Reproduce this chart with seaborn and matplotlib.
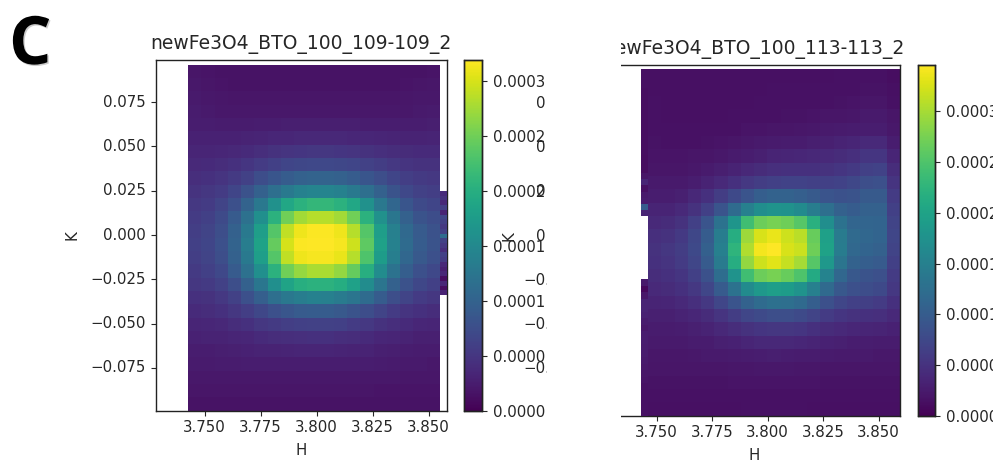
import pandas as pd
import seaborn as sns
import matplotlib.pyplot as plt
import matplotlib.patheffects as pe
from matplotlib.patches import Rectangle

W, H = 997, 462

# intensity values in units of 1e-6, rows from top (K high) to bottom (K low)
left_grid = [
    [18, 17, 16, 15, 15, 15, 15, 15, 15, 15, 15, 15, 15, 15, 15, 15, 15, 16, 17],
    [20, 18, 17, 16, 16, 16, 16, 16, 16, 16, 16, 16, 16, 16, 16, 16, 17, 18, 19],
    [22, 20, 19, 18, 18, 18, 18, 18, 18, 18, 18, 18, 18, 18, 18, 18, 19, 20, 21],
    [24, 22, 21, 20, 20, 20, 21, 21, 21, 21, 21, 21, 21, 21, 21, 21, 21, 22, 23],
    [26, 25, 24, 24, 24, 25, 26, 27, 27, 27, 27, 27, 27, 26, 26, 25, 25, 26, 27],
    [29, 29, 29, 29, 30, 32, 34, 35, 36, 36, 36, 36, 35, 34, 33, 32, 31, 31, 32],
    [33, 33, 34, 36, 38, 42, 45, 48, 49, 50, 50, 49, 48, 46, 43, 41, 39, 38, 38],
    [37, 38, 41, 44, 49, 55, 61, 66, 68, 70, 70, 68, 66, 62, 57, 52, 48, 46, 45],
    [42, 44, 48, 54, 62, 74, 84, 92, 98, 100, 100, 98, 92, 84, 76, 66, 58, 54, 52],
    [47, 50, 56, 66, 80, 98, 115, 130, 140, 145, 145, 140, 130, 115, 98, 82, 70, 62, 58],
    [52, 56, 64, 78, 100, 128, 160, 190, 205, 212, 212, 205, 190, 160, 128, 104, 84, 72, 66],
    [56, 60, 72, 90, 118, 158, 205, 250, 275, 285, 285, 275, 250, 205, 160, 125, 98, 82, 74],
    [58, 64, 76, 98, 130, 178, 235, 290, 312, 318, 318, 312, 285, 235, 178, 138, 108, 90, 80],
    [60, 66, 78, 100, 134, 184, 245, 300, 318, 320, 320, 316, 295, 240, 182, 140, 110, 92, 82],
    [58, 64, 76, 98, 130, 178, 235, 290, 312, 316, 316, 310, 285, 230, 175, 136, 106, 88, 78],
    [54, 60, 70, 90, 118, 158, 205, 250, 270, 280, 280, 268, 245, 200, 155, 120, 94, 78, 70],
    [50, 54, 62, 76, 98, 126, 158, 186, 200, 205, 205, 198, 182, 155, 124, 98, 80, 68, 60],
    [44, 46, 52, 62, 78, 96, 115, 128, 135, 140, 138, 132, 124, 110, 92, 76, 64, 56, 50],
    [38, 40, 44, 50, 58, 68, 78, 86, 90, 92, 92, 88, 82, 74, 64, 56, 48, 44, 40],
    [33, 34, 36, 40, 44, 50, 54, 58, 60, 62, 62, 60, 56, 52, 46, 42, 38, 35, 33],
    [29, 30, 31, 33, 35, 38, 40, 42, 43, 44, 44, 42, 41, 38, 35, 33, 30, 28, 28],
    [26, 26, 27, 28, 29, 30, 31, 32, 33, 33, 33, 32, 31, 30, 28, 27, 25, 24, 24],
    [23, 23, 24, 24, 25, 25, 26, 26, 26, 26, 26, 26, 25, 25, 24, 23, 22, 22, 21],
    [20, 20, 21, 21, 21, 21, 21, 21, 21, 21, 21, 21, 21, 21, 20, 20, 19, 19, 19],
    [18, 18, 18, 18, 18, 18, 18, 18, 18, 18, 18, 18, 18, 18, 17, 17, 17, 17, 17],
    [16, 16, 16, 16, 16, 16, 16, 16, 16, 16, 16, 16, 16, 16, 16, 15, 15, 15, 15],
]
right_grid = [
    [14, 14, 14, 14, 14, 14, 14, 14, 14, 14, 14, 14, 14, 14, 15, 15, 15, 15, 13],
    [14, 14, 14, 14, 14, 14, 14, 14, 14, 15, 15, 15, 15, 16, 16, 16, 17, 17, 14],
    [15, 14, 14, 14, 14, 14, 14, 14, 15, 15, 15, 16, 16, 16, 17, 18, 19, 19, 16],
    [15, 14, 14, 14, 14, 14, 15, 15, 16, 16, 17, 17, 18, 19, 20, 21, 23, 23, 19],
    [16, 15, 15, 15, 15, 16, 16, 18, 18, 19, 20, 21, 22, 23, 25, 26, 28, 28, 22],
    [17, 16, 16, 16, 17, 18, 20, 22, 23, 25, 26, 27, 29, 31, 33, 36, 40, 40, 28],
    [18, 18, 18, 19, 20, 22, 25, 28, 31, 34, 36, 37, 38, 40, 43, 47, 53, 54, 36],
    [20, 20, 20, 22, 25, 29, 33, 38, 42, 46, 48, 48, 48, 50, 53, 58, 66, 68, 44],
    [24, 23, 24, 28, 33, 40, 48, 56, 62, 66, 68, 68, 66, 66, 68, 74, 82, 84, 52],
    [28, 28, 31, 38, 48, 62, 76, 90, 102, 108, 108, 104, 96, 90, 86, 88, 96, 96, 60],
    [34, 34, 40, 50, 66, 90, 120, 150, 170, 178, 175, 165, 145, 125, 106, 100, 106, 106, 66],
    [40, 42, 50, 66, 90, 130, 180, 240, 268, 275, 270, 255, 220, 170, 130, 112, 112, 110, 70],
    [46, 50, 58, 74, 100, 145, 215, 295, 325, 335, 320, 310, 265, 195, 142, 118, 114, 110, 72],
    [50, 55, 62, 76, 105, 150, 225, 305, 340, 346, 325, 318, 270, 200, 144, 116, 110, 106, 70],
    [48, 52, 60, 72, 98, 142, 215, 290, 320, 330, 315, 300, 255, 185, 134, 108, 102, 98, 66],
    [44, 48, 54, 66, 86, 122, 178, 240, 268, 275, 265, 250, 210, 155, 114, 94, 88, 84, 60],
    [40, 42, 48, 56, 72, 98, 130, 165, 185, 192, 190, 178, 150, 118, 94, 84, 80, 76, 56],
    [34, 36, 40, 46, 56, 72, 90, 108, 120, 126, 125, 118, 102, 84, 72, 66, 64, 60, 48],
    [30, 31, 33, 37, 42, 52, 62, 72, 78, 82, 82, 78, 70, 60, 54, 50, 48, 46, 40],
    [26, 27, 28, 30, 33, 38, 44, 50, 53, 55, 55, 53, 48, 43, 40, 37, 36, 35, 32],
    [23, 23, 24, 26, 27, 30, 32, 36, 38, 39, 39, 37, 35, 32, 30, 28, 28, 27, 26],
    [21, 21, 21, 22, 23, 24, 25, 27, 28, 29, 28, 27, 26, 25, 24, 23, 23, 22, 22],
    [19, 19, 19, 19, 20, 20, 21, 21, 22, 22, 22, 21, 21, 20, 20, 19, 19, 19, 19],
    [17, 17, 17, 17, 17, 17, 18, 18, 18, 18, 18, 18, 18, 17, 17, 17, 17, 17, 17],
    [15, 15, 15, 15, 15, 15, 15, 16, 16, 16, 16, 16, 16, 15, 15, 15, 15, 15, 16],
    [14, 14, 14, 14, 14, 14, 14, 15, 15, 15, 15, 15, 14, 14, 14, 14, 14, 14, 14],
]
# narrow detector strips beside the main maps
left_strip = [38, 46, 36, 58, 30, 66, 60, 52, 60, 110, 62, 52, 42, 60, 56, 36, 28, 36, 12, 34, 10, 30]
right_strip_top = [14, 14, 14, 13, 13, 13, 13, 13, 13, 13, 13, 13, 13, 13, 12, 12, 12, 20, 36, 14, 24, 26, 100, 34]
right_strip_bottom = [24, 8, 22, 34, 34, 32, 26, 22, 28, 28, 26, 26, 24, 22, 20, 18, 16, 16, 15, 15, 15]

h_ticks = [3.750, 3.775, 3.800, 3.825, 3.850]
k_ticks = [0.075, 0.050, 0.025, 0.000, -0.025, -0.050, -0.075]
cbar_ticks = [0.0, 0.05, 0.10, 0.15, 0.20, 0.25, 0.30]   # in 1e-3
cbar_text = ['0.0000', '0.0000', '0.0001', '0.0001', '0.0002', '0.0002', '0.0003']
left_title = 'newFe3O4_BTO_100_109-109_2'
right_title = 'newFe3O4_BTO_100_113-113_2'

plt.rcParams['font.family'] = 'DejaVu Sans'
plt.rcParams['font.size'] = 10.8
plt.rcParams['text.color'] = '#262626'
plt.rcParams['axes.labelcolor'] = '#262626'
plt.rcParams['xtick.color'] = '#262626'
plt.rcParams['ytick.color'] = '#262626'

fig = plt.figure(figsize=(W / 100, H / 100), dpi=100)


def box(x0, y0, x1, y1):
    return [x0 / W, 1 - y1 / H, (x1 - x0) / W, (y1 - y0) / H]


def draw_panel(grid, ax_box, data_box, cax_box, xlim, ylim, vmax, title):
    ax = fig.add_axes(box(*ax_box))
    cax = fig.add_axes(box(*cax_box))
    df = pd.DataFrame(grid) / 1e6
    sns.heatmap(df, ax=ax, cbar_ax=cax, cmap='viridis', vmin=0, vmax=vmax)

    # cell index <-> H,K, from the pixel edges of the map
    x0, y0, x1, y1 = data_box
    ax_x0, ax_y0, ax_x1, ax_y1 = ax_box
    nrow, ncol = df.shape
    h_per_px = (xlim[1] - xlim[0]) / (ax_x1 - ax_x0)
    k_per_px = (ylim[1] - ylim[0]) / (ax_y1 - ax_y0)
    h0 = xlim[0] + (x0 - ax_x0) * h_per_px
    h1 = xlim[0] + (x1 - ax_x0) * h_per_px
    k0 = ylim[1] - (y0 - ax_y0) * k_per_px
    k1 = ylim[1] - (y1 - ax_y0) * k_per_px
    to_col = lambda h: (h - h0) / (h1 - h0) * ncol
    to_row = lambda k: (k - k0) / (k1 - k0) * nrow

    ax.set_xlim(to_col(xlim[0]), to_col(xlim[1]))
    ax.set_ylim(to_row(ylim[0]), to_row(ylim[1]))
    ax.set_xticks([to_col(h) for h in h_ticks])
    ax.set_xticklabels(['%.3f' % h for h in h_ticks], rotation=0)
    ax.set_yticks([to_row(k) for k in k_ticks])
    ax.set_yticklabels([('%.3f' % k).replace('-', '\u2212') for k in k_ticks], rotation=0)
    ax.set_xlabel('H', labelpad=5.5)
    ax.set_ylabel('K')
    ax.set_title(title, fontsize=13.5, pad=7.5)
    for s in ax.spines.values():
        s.set_visible(True)
        s.set_linewidth(1.0)
        s.set_color('#222222')

    cax.set_yticks([v / 1000 for v in cbar_ticks])
    cax.set_yticklabels(cbar_text)
    cax.tick_params(length=3.5, width=0.8, pad=4.2, labelsize=10.8)
    for s in cax.spines.values():
        s.set_visible(True)
        s.set_linewidth(1.0)
        s.set_color('#222222')
    return ax, cax


def draw_strip(values, strip_box, vmax):
    ax = fig.add_axes(box(*strip_box))
    sns.heatmap(pd.DataFrame({'v': values}) / 1e6, ax=ax, cbar=False, cmap='viridis',
                vmin=0, vmax=vmax, xticklabels=False, yticklabels=False)
    ax.set_xlabel('')
    ax.set_ylabel('')
    ax.tick_params(length=0)
    return ax


vmax_left = 0.00032
vmax_right = 0.000346

ax1, cax1 = draw_panel(left_grid, (155.5, 59.5, 446.5, 410.7), (188, 64.8, 440, 410.7),
                       (464.3, 59.5, 482.3, 410.7), (3.7281, 3.858), (-0.0991, 0.0990),
                       vmax_left, left_title)
ax2, cax2 = draw_panel(right_grid, (608, 64.7, 900, 415.7), (648, 69.3, 900, 415.7),
                       (918.3, 64.7, 935.3, 415.7), (3.7281, 3.8596), (-0.1014, 0.0967),
                       vmax_right, right_title)

# the right map's K labels stick out of the crop on the left
ax2.tick_params(axis='y', length=0, pad=21)
ax2.spines['left'].set_visible(False)
ax2.yaxis.set_label_coords((516 - 608) / 292, 0.512)
ax1.yaxis.set_label_coords((80 - 155.5) / 291, 0.5)

draw_strip(left_strip, (440, 191, 446.5, 295), vmax_left)
draw_strip(right_strip_top, (641.3, 69.3, 648, 216), vmax_right)
draw_strip(right_strip_bottom, (641.3, 279, 648, 415.7), vmax_right)

# white crop bands of the assembled figure
fig.patches.append(Rectangle((547 / W, 0), (621 - 547) / W, 1, transform=fig.transFigure,
                             facecolor='white', edgecolor='none', zorder=10))
fig.patches.append(Rectangle((993 / W, 0), 4 / W, 1, transform=fig.transFigure,
                             facecolor='white', edgecolor='none', zorder=10))

fig.text(9 / W, 1 - 64 / H, 'C', fontsize=48, fontweight='bold', family='Open Sans', color='black',
         path_effects=[pe.withSimplePatchShadow(offset=(1, -1), shadow_rgbFace='#999999', alpha=0.5)])

fig.savefig('out.png', dpi=100)
